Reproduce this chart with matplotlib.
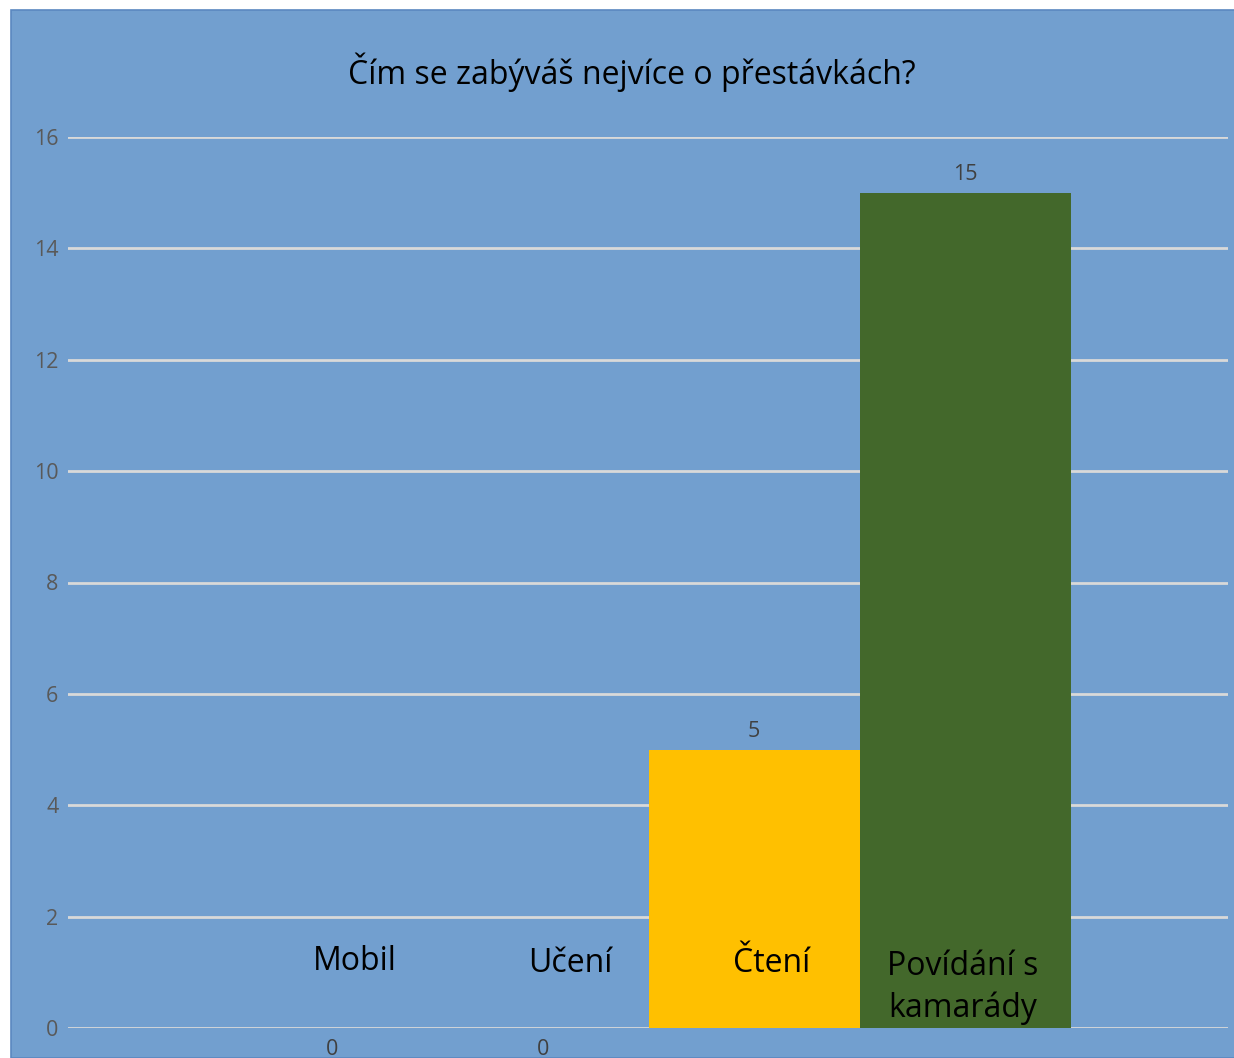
import matplotlib
matplotlib.use("Agg")
import matplotlib.pyplot as plt
from matplotlib.patches import Rectangle

categories = ["Mobil", "Učení", "Čtení", "Povídání s\nkamarády"]
values = [0, 0, 5, 15]
bar_colors = ["#4472C4", "#ED7D31", "#FFC000", "#43682B"]
yticks = [0, 2, 4, 6, 8, 10, 12, 14, 16]
title = "Čím se zabýváš nejvíce o přestávkách?"

W, H = 1234, 1058
fig = plt.figure(figsize=(W / 100, H / 100), dpi=100)
fig.patch.set_facecolor("white")
bg = "#729FCF"
fig.patches.append(Rectangle((11 / W, 0), 1.0, (H - 10) / H, transform=fig.transFigure,
                             facecolor=bg, edgecolor="#5A88C0", linewidth=1.2, zorder=-5))

ax = fig.add_axes([68 / W, (H - 1028) / H, (1228 - 68) / W, (1028 - 137) / H])
ax.set_zorder(2)
ax.set_facecolor("none")
x = list(range(len(values)))
ax.bar(x, values, width=1.0, color=bar_colors, zorder=3)
ax.set_xlim(-1.251, 4.246)
ax.set_ylim(0, 16)
ax.set_yticks(yticks)
ax.set_xticks([])
for s in ax.spines.values():
    s.set_visible(False)
ax.yaxis.grid(True, color="#D9D9D9", linewidth=2, zorder=1)
ax.tick_params(axis="y", length=0, pad=7, labelsize=15.5, labelcolor="#595959")
for lab in ax.get_yticklabels():
    lab.set_fontfamily("Open Sans")

# category labels inside
label_dx = [0.11, 0.13, 0.085, -0.01]
label_y = [1.2, 1.15, 1.15]
for xi, cat, dx in zip(x, categories, label_dx):
    if "\n" in cat:
        ax.text(xi + dx, 0.73, cat, ha="center", va="center", fontsize=23,
                family="Open Sans", color="black", linespacing=1.33, zorder=5, clip_on=False)
    else:
        ax.text(xi + dx, label_y[xi], cat, ha="center", va="center", fontsize=23,
                family="Open Sans", color="black", zorder=5, clip_on=False)

# value labels
for xi, v in zip(x, values):
    if v == 0:
        ax.text(xi, -0.38, str(v), ha="center", va="center", fontsize=15.5,
                family="Open Sans", color="#404040", clip_on=False)
    else:
        ax.text(xi, v + 0.32, str(v), ha="center", va="center", fontsize=15.5,
                family="Open Sans", color="#404040", clip_on=False)

fig.text(632 / W, 1 - 72 / H, title, ha="center", va="center", fontsize=23,
         family="Open Sans", color="black")

fig.savefig("out.png", dpi=100)
